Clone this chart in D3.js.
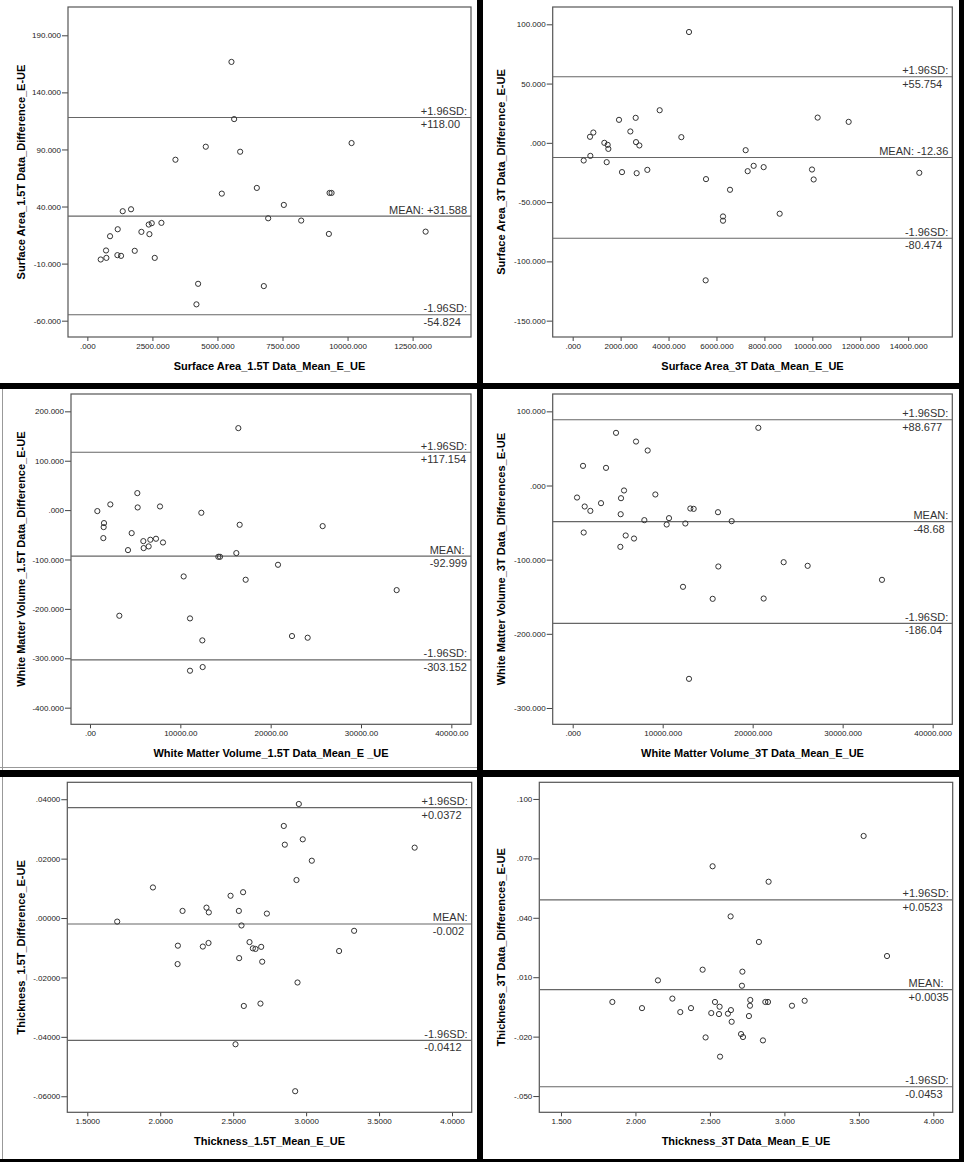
<!DOCTYPE html>
<html>
<head>
<meta charset="utf-8">
<script src="https://cdn.jsdelivr.net/npm/d3@7"></script>
<style>
  body { margin: 0; background: #fff; }
  svg { display: block; font-family: "Liberation Sans", Arial, sans-serif; }
</style>
</head>
<body>
<script>
const width = 964;
const height = 1162;

// ---- data ----
const sa15Mean = [5538, 5641, 4551, 5872, 3385, 10154, 5167, 6513, 9308, 9385, 7551, 1359, 1679, 6949, 8218, 2846, 2359, 2474, 1167, 2077, 2385, 872, 9282, 13000, 718, 1821, 1154, 1295, 513, 731, 2590, 4256, 4192, 6782];
const sa15Diff = [166.7, 116.6, 92.4, 88.0, 81.0, 95.6, 51.3, 56.3, 51.9, 51.9, 41.4, 35.9, 37.6, 29.7, 27.7, 25.7, 24.2, 25.4, 20.1, 17.8, 15.8, 14.0, 16.0, 18.0, 1.5, 1.2, -2.6, -3.2, -6.4, -5.0, -5.0, -27.7, -45.7, -29.7];

const sa3Mean = [4854, 3630, 1933, 2629, 10222, 11516, 862, 723, 2406, 4534, 1321, 1460, 1488, 2643, 2782, 737, 459, 1419, 2058, 2670, 3115, 7218, 7302, 7552, 7969, 5563, 6565, 9986, 10056, 14464, 6273, 6273, 8637, 5549];
const sa3Diff = [93.5, 27.5, 19.4, 21.1, 21.3, 17.7, 8.7, 5.1, 9.6, 4.8, 0.0, -1.7, -5.1, 0.6, -2.2, -11.0, -14.9, -16.3, -24.7, -25.6, -22.8, -6.2, -23.9, -19.4, -20.5, -30.6, -39.6, -22.5, -30.9, -25.3, -62.1, -65.7, -59.8, -116.0];

const wm15Mean = [16421, 5240, 2251, 812, 5277, 7749, 12325, 1550, 1513, 16568, 25756, 1476, 4613, 5904, 6679, 7306, 8081, 5941, 6494, 4207, 14207, 14391, 16199, 20812, 10369, 17232, 33948, 3247, 11070, 12435, 22362, 24096, 11070, 12472];
const wm15Diff = [166, 34.4, 11.5, -2, 5.4, 7.4, -5.4, -26.3, -34.4, -29.7, -32.4, -56.7, -46.6, -62.8, -60, -58, -65.5, -76.9, -73.5, -81, -94.5, -94.5, -87, -110.7, -134.3, -141, -162, -213.9, -219.3, -263.8, -255, -258.4, -325.2, -317.8];

const wm3Mean = [20630, 4815, 7037, 8333, 1148, 3704, 481, 5704, 5370, 9185, 1333, 1963, 3148, 5333, 13074, 13444, 16148, 7963, 10704, 10444, 12519, 17667, 1222, 5889, 6815, 5296, 23444, 26111, 16185, 34370, 12259, 15556, 21222, 12926];
const wm3Diff = [77.8, 71, 59.3, 47.2, 26.5, 23.8, -16.2, -6.7, -17.1, -12.1, -28.3, -34.2, -23.8, -38.7, -31, -31.5, -36, -46.7, -44, -52.6, -51.2, -48.1, -63.4, -67.4, -71.5, -82.7, -103.4, -108.3, -109.2, -127.2, -136.6, -152.8, -152.4, -260.7];

const th15Mean = [2.950, 2.847, 2.977, 2.854, 3.744, 3.039, 2.934, 1.950, 2.482, 2.568, 2.317, 2.153, 2.333, 2.539, 2.731, 1.705, 2.557, 3.329, 2.121, 2.292, 2.331, 2.612, 2.635, 2.653, 2.692, 3.226, 2.119, 2.541, 2.699, 2.941, 2.687, 2.573, 2.516, 2.925];
const th15Diff = [0.0384, 0.0310, 0.0265, 0.0247, 0.0237, 0.0193, 0.0128, 0.0103, 0.0075, 0.0087, 0.0035, 0.0024, 0.0019, 0.0024, 0.0015, -0.0012, -0.0025, -0.0043, -0.0093, -0.0096, -0.0084, -0.0081, -0.0102, -0.0104, -0.0097, -0.0111, -0.0155, -0.0135, -0.0147, -0.0217, -0.0288, -0.0296, -0.0425, -0.0583];

const th3Mean = [3.532, 2.518, 2.894, 2.639, 2.829, 3.689, 2.451, 2.718, 2.151, 2.715, 1.845, 2.248, 2.044, 2.301, 2.373, 2.534, 2.565, 2.509, 2.561, 2.621, 2.641, 2.646, 2.762, 2.769, 2.771, 2.872, 2.890, 3.051, 3.136, 2.471, 2.709, 2.722, 2.856, 2.568];
const th3Diff = [0.0813, 0.0660, 0.0582, 0.0407, 0.0278, 0.0207, 0.0138, 0.0128, 0.0084, 0.0057, -0.0025, -0.0008, -0.0056, -0.0076, -0.0056, -0.0025, -0.0049, -0.0081, -0.0086, -0.0084, -0.0066, -0.0125, -0.0096, -0.0044, -0.0015, -0.0025, -0.0025, -0.0044, -0.0019, -0.0204, -0.0187, -0.0202, -0.0219, -0.0301];

// reference lines (+1.96SD, mean, -1.96SD) and their labels
const sa15Lines = [118.0, 31.588, -54.824];
const sa15Labels = [["+1.96SD:", "+118.00"], ["MEAN: +31.588"], ["-1.96SD:", "-54.824"]];
const sa3Lines = [55.754, -12.36, -80.474];
const sa3Labels = [["+1.96SD:", "+55.754"], ["MEAN: -12.36"], ["-1.96SD:", "-80.474"]];
const wm15Lines = [117.154, -92.999, -303.152];
const wm15Labels = [["+1.96SD:", "+117.154"], ["MEAN:", "-92.999"], ["-1.96SD:", "-303.152"]];
const wm3Lines = [88.677, -48.68, -186.04];
const wm3Labels = [["+1.96SD:", "+88.677"], ["MEAN:", "-48.68"], ["-1.96SD:", "-186.04"]];
const th15Lines = [0.0372, -0.002, -0.0412];
const th15Labels = [["+1.96SD:", "+0.0372"], ["MEAN:", "-0.002"], ["-1.96SD:", "-0.0412"]];
const th3Lines = [0.049, 0.0037, -0.0453];
const th3Labels = [["+1.96SD:", "+0.0523"], ["MEAN:", "+0.0035"], ["-1.96SD:", "-0.0453"]];

// tick values
const sa15XTicks = [0, 2500, 5000, 7500, 10000, 12500];
const sa15YTicks = [-60, -10, 40, 90, 140, 190];
const sa3XTicks = [0, 2000, 4000, 6000, 8000, 10000, 12000, 14000];
const sa3YTicks = [-150, -100, -50, 0, 50, 100];
const wm15XTicks = [0, 10000, 20000, 30000, 40000];
const wm15YTicks = [-400, -300, -200, -100, 0, 100, 200];
const wm3XTicks = [0, 10000, 20000, 30000, 40000];
const wm3YTicks = [-300, -200, -100, 0, 100];
const th15XTicks = [1.5, 2.0, 2.5, 3.0, 3.5, 4.0];
const th15YTicks = [-0.06, -0.04, -0.02, 0, 0.02, 0.04];
const th3XTicks = [1.5, 2.0, 2.5, 3.0, 3.5, 4.0];
const th3YTicks = [-0.05, -0.02, 0.01, 0.04, 0.07, 0.1];

// SPSS style numbers: drop the leading zero (".000", "-.02000")
function spss(decimals) {
  return (v) => {
    let s = Math.abs(v) < 1e-12 ? (0).toFixed(decimals) : v.toFixed(decimals);
    return s.replace(/^(-?)0\./, "$1.");
  };
}

let panels = [
  { ox: 0, plot: [68, 471, 7, 337], xd: [-744, 14744], yd: [-74.3, 214.8],
    xs: sa15Mean, ys: sa15Diff, lines: sa15Lines, labels: sa15Labels,
    xt: sa15XTicks, yt: sa15YTicks, xf: spss(3), yf: spss(3),
    xTitle: "Surface Area_1.5T Data_Mean_E_UE", yTitle: "Surface Area_1.5T Data_Difference_E-UE" },
  { ox: 480, plot: [552.7, 952.3, 7, 337], xd: [-834, 15841], yd: [-163.8, 114.6],
    xs: sa3Mean, ys: sa3Diff, lines: sa3Lines, labels: sa3Labels,
    xt: sa3XTicks, yt: sa3YTicks, xf: spss(3), yf: spss(3),
    xTitle: "Surface Area_3T Data_Mean_E_UE", yTitle: "Surface Area_3T Data_Difference_E-UE" },
  { ox: 0, plot: [71, 471, 394, 724.3], xd: [-2103, 42177], yd: [-433.7, 235.1],
    xs: wm15Mean, ys: wm15Diff, lines: wm15Lines, labels: wm15Labels,
    xt: wm15XTicks, yt: wm15YTicks, xf: spss(2), yf: spss(3),
    xTitle: "White Matter Volume_1.5T Data_Mean_E _UE", yTitle: "White Matter Volume_1.5T Data_Difference_E-UE" },
  { ox: 480, plot: [552.7, 952.3, 394, 724.3], xd: [-2222, 42185], yd: [-322, 123.4],
    xs: wm3Mean, ys: wm3Diff, lines: wm3Lines, labels: wm3Labels,
    xt: wm3XTicks, yt: wm3YTicks, xf: spss(3), yf: spss(3),
    xTitle: "White Matter Volume_3T Data_Mean_E_UE", yTitle: "White Matter Volume_3T Data_Differences_E-UE" },
  { ox: 0, plot: [67.3, 471.7, 782.3, 1112.3], xd: [1.363, 4.135], yd: [-0.0654, 0.0457],
    xs: th15Mean, ys: th15Diff, lines: th15Lines, labels: th15Labels,
    xt: th15XTicks, yt: th15YTicks, xf: spss(4), yf: spss(5),
    xTitle: "Thickness_1.5T_Mean_E_UE", yTitle: "Thickness_1.5T_Difference_E-UE" },
  { ox: 480, plot: [539.3, 952.7, 782.3, 1112.3], xd: [1.3545, 4.13], yd: [-0.0582, 0.1084],
    xs: th3Mean, ys: th3Diff, lines: th3Lines, labels: th3Labels,
    xt: th3XTicks, yt: th3YTicks, xf: spss(3), yf: spss(3),
    xTitle: "Thickness_3T Data_Mean_E_UE", yTitle: "Thickness_3T Data_Differences_E-UE" },
];

let svg = d3
  .select("body")
  .append("svg")
  .attr("width", width)
  .attr("height", height);

svg.append("rect").attr("width", width).attr("height", height).attr("fill", "#fff");

// thin grey edges of the pasted chart images
svg.append("line").attr("x1", 2.5).attr("x2", 2.5).attr("y1", 389).attr("y2", 1159)
  .attr("stroke", "#999").attr("stroke-width", 1);
svg.append("line").attr("x1", 0).attr("x2", 477).attr("y1", 767.5).attr("y2", 767.5)
  .attr("stroke", "#999").attr("stroke-width", 1);

function drawPanel(p) {
  let [left, right, top, bottom] = p.plot;
  let g = svg.append("g");

  let xScale = d3.scaleLinear().domain(p.xd).range([left, right]);
  let yScale = d3.scaleLinear().domain(p.yd).range([bottom, top]);

  let bottomAxis = d3.axisBottom(xScale).tickValues(p.xt).tickFormat(p.xf)
    .tickSize(4).tickPadding(2).tickSizeOuter(0);
  let leftAxis = d3.axisLeft(yScale).tickValues(p.yt).tickFormat(p.yf)
    .tickSize(6).tickPadding(1).tickSizeOuter(0);

  g.append("g").attr("transform", `translate(0, ${bottom})`).call(bottomAxis);
  g.append("g").attr("transform", `translate(${left}, 0)`).call(leftAxis);

  g.selectAll(".domain").remove();
  g.selectAll(".tick line").attr("stroke", "#444");
  g.selectAll(".tick text").style("font-size", "8px").attr("fill", "#222");

  // plot frame
  g.append("rect")
    .attr("x", left).attr("y", top)
    .attr("width", right - left).attr("height", bottom - top)
    .attr("fill", "none").attr("stroke", "#555").attr("stroke-width", 1.2);

  // reference lines
  g.selectAll("line.ref")
    .data(p.lines)
    .join("line")
    .attr("class", "ref")
    .attr("x1", left).attr("x2", right)
    .attr("y1", (d) => yScale(d)).attr("y2", (d) => yScale(d))
    .attr("stroke", "#666").attr("stroke-width", 1.2);

  // labels next to the reference lines
  p.lines.forEach((v, i) => {
    let rows = p.labels[i];
    let y = yScale(v);
    let texts = rows.map((r, j) =>
      g.append("text")
        .text(r)
        .attr("y", j === 0 ? y - 2.5 : y + 11)
        .style("font-size", "11px")
        .attr("fill", "#333")
    );
    let w = d3.max(texts, (t) => t.node().getComputedTextLength());
    texts.forEach((t) => t.attr("x", right - 4 - w));
  });

  // points
  g.selectAll("circle")
    .data(p.xs.map((x, i) => [x, p.ys[i]]))
    .join("circle")
    .attr("cx", (d) => xScale(d[0]))
    .attr("cy", (d) => yScale(d[1]))
    .attr("r", 2.6)
    .attr("fill", "none")
    .attr("stroke", "#333")
    .attr("stroke-width", 1);

  // axis titles
  g.append("text")
    .text(p.xTitle)
    .attr("x", (left + right) / 2)
    .attr("y", bottom + 32.5)
    .attr("text-anchor", "middle")
    .style("font-size", "11px")
    .style("font-weight", "bold");

  g.append("text")
    .text(p.yTitle)
    .attr("text-anchor", "middle")
    .attr("dy", "0.35em")
    .attr("transform", `translate(${p.ox + 21}, ${(top + bottom) / 2}) rotate(270)`)
    .style("font-size", "11px")
    .style("font-weight", "bold");
}

panels.forEach(drawPanel);

// black separators between the panels
let bars = [
  [477, 0, 6, height],
  [959, 0, 5, height],
  [0, 383, width, 6],
  [0, 770, width, 7],
  [0, 1159, width, 3],
];
svg.selectAll("rect.bar")
  .data(bars)
  .join("rect")
  .attr("class", "bar")
  .attr("x", (d) => d[0]).attr("y", (d) => d[1])
  .attr("width", (d) => d[2]).attr("height", (d) => d[3])
  .attr("fill", "#000");
</script>
</body>
</html>
